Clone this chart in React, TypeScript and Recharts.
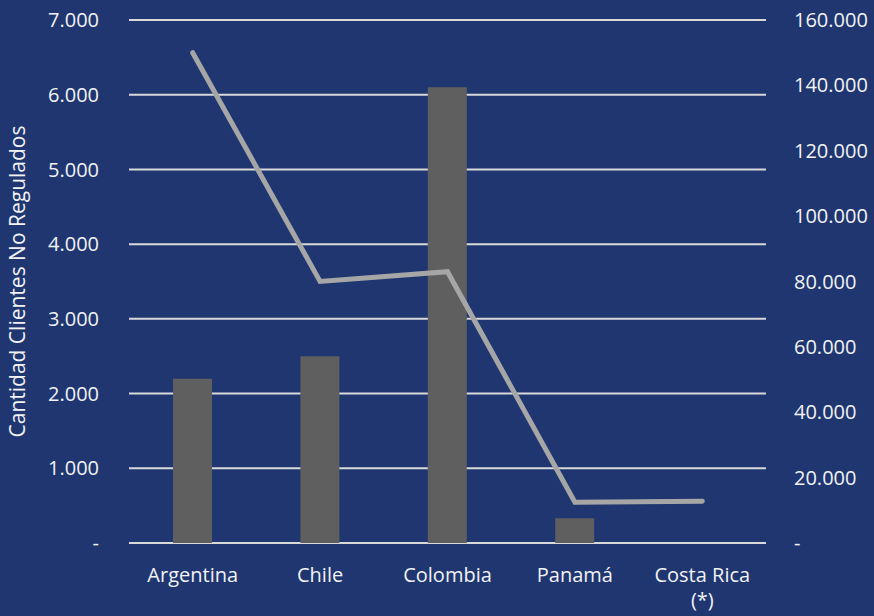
import React from 'react'
import {
  ComposedChart,
  Bar,
  Line,
  XAxis,
  YAxis,
  CartesianGrid,
} from 'recharts'

// data
const countries = ['Argentina', 'Chile', 'Colombia', 'Panamá', 'Costa Rica\n(*)']
const clientesNoRegulados = [2200, 2500, 6100, 330, 0]
const demandaLinea = [150000, 80000, 83000, 12500, 12800]
const leftTicks = [0, 1000, 2000, 3000, 4000, 5000, 6000, 7000]
const rightTicks = [0, 20000, 40000, 60000, 80000, 100000, 120000, 140000, 160000]

const BG = '#1f3671'
const TEXT = '#f2f2f2'
const FONT = '"Open Sans", Lato, sans-serif'

const data = countries.map((name, i) => ({
  name,
  clientes: clientesNoRegulados[i],
  demanda: demandaLinea[i],
}))

// 7000 -> "7.000", 0 -> "-"
const fmt = (v: number) =>
  v === 0 ? '-' : String(v).replace(/\B(?=(\d{3})+(?!\d))/g, '.')

function CategoryTick(props: any) {
  const { x, y, payload } = props
  const lines = String(payload.value).split('\n')
  return (
    <text x={x} y={y} textAnchor="middle" fill={TEXT} fontSize={20} fontFamily={FONT}>
      {lines.map((l, i) => (
        <tspan key={i} x={x} dy={i === 0 ? 31 : 25}>
          {l}
        </tspan>
      ))}
    </text>
  )
}

function AxisTitle(props: any) {
  const vb = props.viewBox || {}
  const cy = (vb.y ?? 20) + (vb.height ?? 523) / 2
  const cx = 25
  return (
    <text
      x={cx}
      y={cy}
      transform={`rotate(-90, ${cx}, ${cy})`}
      textAnchor="middle"
      fill={TEXT}
      fontSize={21}
      fontFamily={FONT}
    >
      Cantidad Clientes No Regulados
    </text>
  )
}

export default function App() {
  return (
    <div style={{ position: 'absolute', left: 0, top: 0, width: 874, height: 616, background: BG }}>
      <ComposedChart
        width={874}
        height={616}
        data={data}
        margin={{ top: 20, right: 0, left: 0, bottom: 0 }}
        barCategoryGap={0}
      >
        <CartesianGrid
          yAxisId="left"
          vertical={false}
          horizontal
          stroke="#d9d9d9"
          strokeWidth={2}
        />
        <XAxis
          dataKey="name"
          height={73}
          axisLine={false}
          tickLine={false}
          interval={0}
          tick={<CategoryTick />}
        />
        <YAxis
          yAxisId="left"
          orientation="left"
          width={129}
          domain={[0, 7000]}
          ticks={leftTicks}
          tickFormatter={fmt}
          axisLine={false}
          tickLine={false}
          tickSize={0}
          tickMargin={30}
          tick={{ fill: TEXT, fontSize: 20, fontFamily: FONT }}
          label={{ content: <AxisTitle /> }}
        />
        <YAxis
          yAxisId="right"
          orientation="right"
          width={108}
          domain={[0, 160000]}
          ticks={rightTicks}
          tickFormatter={fmt}
          axisLine={false}
          tickLine={false}
          tickSize={0}
          tickMargin={28}
          tick={{ fill: TEXT, fontSize: 20, fontFamily: FONT, textAnchor: 'start' }}
        />
        <Bar
          yAxisId="left"
          dataKey="clientes"
          fill="#5f5f5f"
          barSize={39}
          isAnimationActive={false}
        />
        <Line
          yAxisId="right"
          dataKey="demanda"
          type="linear"
          stroke="#a6a6a6"
          strokeWidth={5}
          strokeLinecap="round"
          dot={false}
          activeDot={false}
          isAnimationActive={false}
        />
      </ComposedChart>
    </div>
  )
}
